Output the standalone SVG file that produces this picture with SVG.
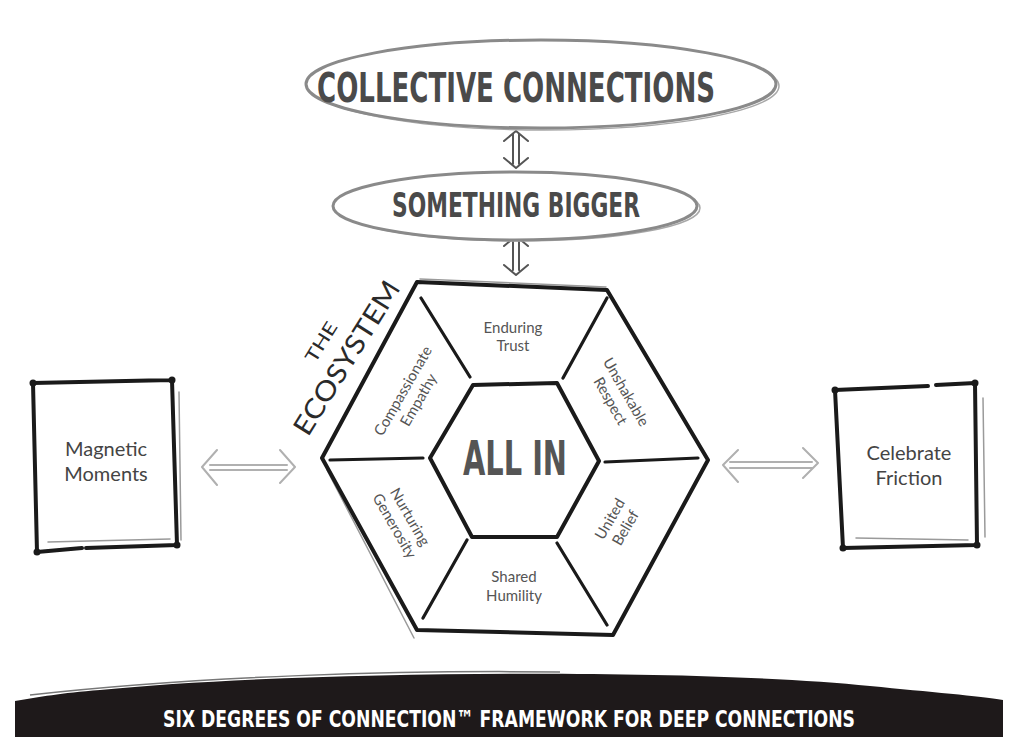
<svg xmlns="http://www.w3.org/2000/svg" width="1016" height="755" viewBox="0 0 1016 755">
<style>
.title{font-family:"Liberation Sans Narrow","DejaVu Sans Condensed","Roboto",sans-serif;font-weight:bold;fill:#4a4a4a;text-anchor:middle}
.lbl{font-family:"Lato","Noto Sans",sans-serif;fill:#555;font-size:15px;text-anchor:middle}
.box-lbl{font-family:"Lato","Noto Sans",sans-serif;fill:#444;font-size:20px;text-anchor:middle}
.eco{font-family:"Lato","Noto Sans",sans-serif;fill:#2a2a2a;text-anchor:middle}
.ell{fill:#fff;stroke:#8a8a8a;stroke-width:3}
.ell2{fill:none;stroke:#a8a8a8;stroke-width:1.5}
.hex{fill:#fff;stroke:#1a1a1a;stroke-width:4;stroke-linejoin:round}
.sketch{fill:none;stroke:#9a9a9a;stroke-width:1.5;stroke-linecap:round}
.spoke{stroke:#1a1a1a;stroke-width:3.2;stroke-linecap:round;fill:none}
.box{stroke:#1a1a1a;stroke-width:4;stroke-linecap:round;fill:none}
.dot{fill:#1a1a1a}
.varr{stroke:#555;stroke-width:2;fill:none;stroke-linecap:round;stroke-linejoin:round}
.harr{stroke:#b0b0b0;stroke-width:2;fill:none;stroke-linecap:round;stroke-linejoin:round}
</style>
<rect width="1016" height="755" fill="#fff"/>

<g id="connectors">
  <path class="varr" d="M513,134 V164 M519,134 V164 M504,141 L516,131 L528,141 M504,158 L516,168 L528,158"/>
  <path class="varr" d="M513,240 V270 M519,240 V270 M504,246 L516,236 L528,246 M504,265 L516,275 L528,265"/>
  <path class="harr" d="M210,465 H287 M210,470 H287 M217,450 L202,467 L217,485 M280,450 L295,467 L280,483"/>
  <path class="harr" d="M730,462 H812 M730,468 H812 M738,450 L723,465 L738,482 M803,448 L818,463 L803,478"/>
</g>

<g id="collective-connections">
  <ellipse class="ell2" cx="545" cy="86" rx="234" ry="44"/>
  <ellipse class="ell" cx="541" cy="84" rx="235" ry="44"/>
  <text class="title" x="516" y="102" font-size="40" textLength="398" lengthAdjust="spacingAndGlyphs">COLLECTIVE CONNECTIONS</text>
</g>

<g id="something-bigger">
  <ellipse class="ell2" cx="519" cy="208" rx="181" ry="33"/>
  <ellipse class="ell" cx="515" cy="206" rx="182" ry="34"/>
  <text class="title" x="516" y="217" font-size="33" textLength="248" lengthAdjust="spacingAndGlyphs">SOMETHING BIGGER</text>
</g>

<g id="ecosystem">
  <path class="sketch" d="M420,279 L606,287 M327,470 L414,638 M610,296 L706,462"/>
  <polygon class="hex" points="417,282 607,290 708,460 613,635 417,630 322,458"/>
  <polygon class="hex" points="473,385 557,383 599,461 557,537 472,537 430,458"/>
  <path class="spoke" d="M421,298 L470,377 M607,298 L563,378 M330,460 L423,458 M605,462 L698,458 M423,618 L467,540 M557,543 L607,625"/>
  <text class="title" x="515" y="475" font-size="48" style="fill:#555" textLength="104" lengthAdjust="spacingAndGlyphs">ALL IN</text>
  <text class="lbl" x="513" y="333">Enduring</text>
  <text class="lbl" x="513" y="351">Trust</text>
  <text class="lbl" x="514" y="582">Shared</text>
  <text class="lbl" x="514" y="601">Humility</text>
  <g transform="translate(619,396) rotate(60)">
    <text class="lbl" x="0" y="-3">Unshakable</text>
    <text class="lbl" x="0" y="15">Respect</text>
  </g>
  <g transform="translate(410,395) rotate(-60)">
    <text class="lbl" x="0" y="-3">Compassionate</text>
    <text class="lbl" x="0" y="15">Empathy</text>
  </g>
  <g transform="translate(403,521) rotate(60)">
    <text class="lbl" x="0" y="-3">Nurturing</text>
    <text class="lbl" x="0" y="15">Generosity</text>
  </g>
  <g transform="translate(617,523) rotate(-60)">
    <text class="lbl" x="0" y="-3">United</text>
    <text class="lbl" x="0" y="15">Belief</text>
  </g>
  <g transform="translate(347,358) rotate(-58)">
    <text class="eco" x="0" y="-24" font-size="18" textLength="44" lengthAdjust="spacingAndGlyphs">THE</text>
    <text class="eco" x="0" y="9" font-size="27" textLength="176" lengthAdjust="spacingAndGlyphs">ECOSYSTEM</text>
  </g>
</g>

<g id="magnetic-moments">
  <path class="sketch" d="M179,392 L181,540 M48,542 L170,539"/>
  <path class="box" d="M33,383 L172,380 M172,380 L177,545 M177,545 L86,548 M82,548 L37,552 M37,552 L33,383"/>
  <circle class="dot" cx="33" cy="383" r="3.5"/><circle class="dot" cx="172" cy="380" r="3.5"/>
  <circle class="dot" cx="177" cy="545" r="3.5"/><circle class="dot" cx="37" cy="552" r="3.5"/>
  <text class="box-lbl" x="106" y="456">Magnetic</text>
  <text class="box-lbl" x="106" y="481">Moments</text>
</g>

<g id="celebrate-friction">
  <path class="sketch" d="M983,398 L985,537 M856,538 L968,540"/>
  <path class="box" d="M835,390 L928,386 M936,385 L975,383 M975,383 L977,545 M977,545 L843,548 M843,548 L835,390"/>
  <circle class="dot" cx="835" cy="390" r="3.5"/><circle class="dot" cx="975" cy="383" r="3.5"/>
  <circle class="dot" cx="977" cy="545" r="3.5"/><circle class="dot" cx="843" cy="548" r="3.5"/>
  <text class="box-lbl" x="909" y="460">Celebrate</text>
  <text class="box-lbl" x="909" y="485">Friction</text>
</g>

<g id="banner">
  <path d="M15,737 L15,701 C40,697 60,693 100,690 C300,670 700,668 870,686 C930,692 980,696 1003,700 L1003,737 Z" fill="#1e191a"/>
  <path d="M30,695 C200,676 400,670 560,672" fill="none" stroke="#777" stroke-width="1.5"/>
  <text x="509" y="727" font-family="Liberation Sans Narrow,DejaVu Sans Condensed,sans-serif" font-weight="bold" font-size="23" fill="#fff" text-anchor="middle" textLength="692" lengthAdjust="spacingAndGlyphs">SIX DEGREES OF CONNECTION™ FRAMEWORK FOR DEEP CONNECTIONS</text>
</g>
</svg>
